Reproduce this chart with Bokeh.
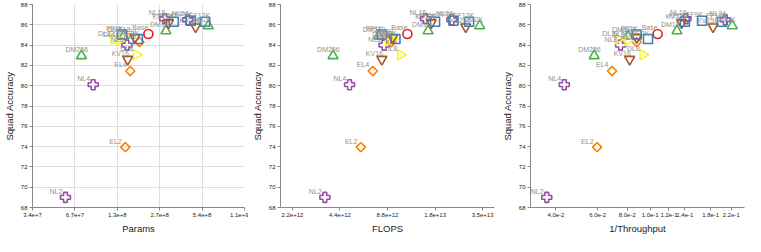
import math
from bokeh.plotting import figure
from bokeh.layouts import row
from bokeh.models import ColumnDataSource, Range1d, FixedTicker, CustomJSTickFormatter
from bokeh.core.properties import value
from bokeh.embed import file_html
from bokeh.resources import INLINE

# ---------------- data ----------------
labels = ["Base", "NL2", "NL4", "NL8", "NL16", "NL24",
          "EL2", "EL4", "EL8",
          "DM256", "DM512", "DM1K", "DM2K",
          "DL32", "DL16", "DL8",
          "KV16", "KV32", "KV128", "KV256",
          "FF1K", "FF2K", "FF6K", "FF9K", "FF12K"]
groups = ["Base", "NL", "NL", "NL", "NL", "NL",
          "EL", "EL", "EL",
          "DM", "DM", "DM", "DM",
          "DL", "DL", "DL",
          "KV", "KV", "KV", "KV",
          "FF", "FF", "FF", "FF", "FF"]
params = [2.23e8, 5.75e7, 9.05e7, 1.57e8, 2.91e8, 4.24e8,
          1.53e8, 1.66e8, 1.93e8,
          7.47e7, 1.49e8, 2.97e8, 5.94e8,
          1.27e8, 1.38e8, 1.83e8,
          1.59e8, 1.79e8, 3.10e8, 4.83e8,
          1.45e8, 1.88e8, 3.38e8, 4.46e8, 5.64e8]
flops = [1.175e13, 3.53e12, 5.06e12, 8.37e12, 1.53e13, 2.25e13,
         5.97e12, 7.10e12, 9.33e12,
         3.98e12, 7.73e12, 1.59e13, 3.37e13,
         9.46e12, 8.90e12, 1.064e13,
         8.10e12, 9.50e12, 1.665e13, 2.75e13,
         8.10e12, 9.88e12, 1.76e13, 2.30e13, 2.89e13]
inv_throughput = [0.1075, 0.0366, 0.0434, 0.0750, 0.1415, 0.2073,
                  0.0597, 0.0690, 0.0877,
                  0.0580, 0.0806, 0.1297, 0.2220,
                  0.0733, 0.0806, 0.0933,
                  0.0819, 0.0877, 0.1358, 0.1841,
                  0.0877, 0.0979, 0.1401, 0.1655, 0.2010]
accuracy = [85.1, 69.0, 80.1, 84.0, 86.6, 86.5,
            73.95, 81.45, 84.3,
            82.95, 84.9, 85.4, 85.9,
            84.6, 84.45, 83.05,
            82.6, 84.75, 86.2, 85.8,
            85.05, 84.6, 86.3, 86.4, 86.3]

params_ticks = [2**25, 2**26, 2**27, 2**28, 2**29, 2**30]
flops_ticks = [2**41, 2**42, 2**43, 2**44, 2**45]
thr_ticks = [0.04, 0.06, 0.08, 0.10, 0.12, 0.14, 0.18, 0.22]
acc_ticks = [68, 70, 72, 74, 76, 78, 80, 82, 84, 86, 88]

# ---------------- styles ----------------
style = {
    "Base": ("#e41a1c", "circle", 0.0, 9),
    "NL": ("#984ea3", "plus", 0.0, 10),
    "EL": ("#ff7f00", "square", math.pi / 4, 6.5),
    "DM": ("#4daf4a", "triangle", 0.0, 10),
    "DL": ("#f5f530", "triangle", -math.pi / 2, 10),
    "KV": ("#a65628", "inverted_triangle", 0.0, 10),
    "FF": ("#377eb8", "square", 0.0, 9),
}

data = dict(
    label=labels,
    params=params,
    flops=flops,
    thr=inv_throughput,
    acc=accuracy,
    color=[style[g][0] for g in groups],
    marker=[style[g][1] for g in groups],
    angle=[style[g][2] for g in groups],
    size=[style[g][3] for g in groups],
)
src = ColumnDataSource(data)

FONT = "Liberation Sans"


def make_panel(xcol, xrange, ticks, title, width, left, right, grid):
    p = figure(width=width, height=236, x_axis_type="log",
               x_range=Range1d(*xrange), y_range=Range1d(68, 88),
               output_backend="svg", toolbar_location=None,
               min_border_left=left, min_border_right=right,
               min_border_top=4, min_border_bottom=24)
    p.outline_line_color = None
    p.background_fill_color = "white"
    p.xaxis.ticker = FixedTicker(ticks=ticks, minor_ticks=[])
    p.yaxis.ticker = FixedTicker(ticks=acc_ticks, minor_ticks=[])
    p.xaxis.formatter = CustomJSTickFormatter(code="return tick.toExponential(1);")
    for ax in (p.xaxis[0], p.yaxis[0]):
        ax.axis_line_color = "#888888"
        ax.major_tick_line_color = "#888888"
        ax.major_tick_out = 3
        ax.major_tick_in = 0
        ax.minor_tick_out = 0
        ax.minor_tick_in = 0
        ax.major_label_text_font = FONT
        ax.major_label_text_font_size = "6px"
        ax.major_label_text_color = "#222222"
        ax.major_label_standoff = 2
        ax.axis_label_text_font = FONT
        ax.axis_label_text_font_size = "9.5px"
        ax.axis_label_text_font_style = "normal"
        ax.axis_label_text_color = "#222222"
        ax.axis_label_standoff = 3
    p.xaxis.axis_label = title
    p.yaxis.axis_label = "Squad Accuracy"
    if grid:
        p.grid.grid_line_color = "#dddddd"
        p.grid.grid_line_width = 1
    else:
        p.grid.grid_line_color = None
    p.scatter(xcol, "acc", source=src, marker="marker", angle="angle",
              size="size", line_color="color", fill_alpha=0, line_width=1.6)
    p.text(xcol, "acc", text="label", source=src, text_align="left",
           text_baseline="alphabetic", x_offset=-16, y_offset=-6,
           text_font=value(FONT), text_font_size="7px", text_color="#909090")
    return p


p1 = make_panel("params", (2**25, 2**30), params_ticks, "Params", 248, 23, 4, True)
p2 = make_panel("flops", (2**40.75, 2**45.25), flops_ticks, "FLOPS", 250, 25, 4, False)
p3 = make_panel("thr", (2**-5, 2**-2), thr_ticks, "1/Throughput", 247, 25, 1, False)

layout = row(p1, p2, p3, spacing=0)
open("out.html", "w").write(file_html(layout, INLINE))
